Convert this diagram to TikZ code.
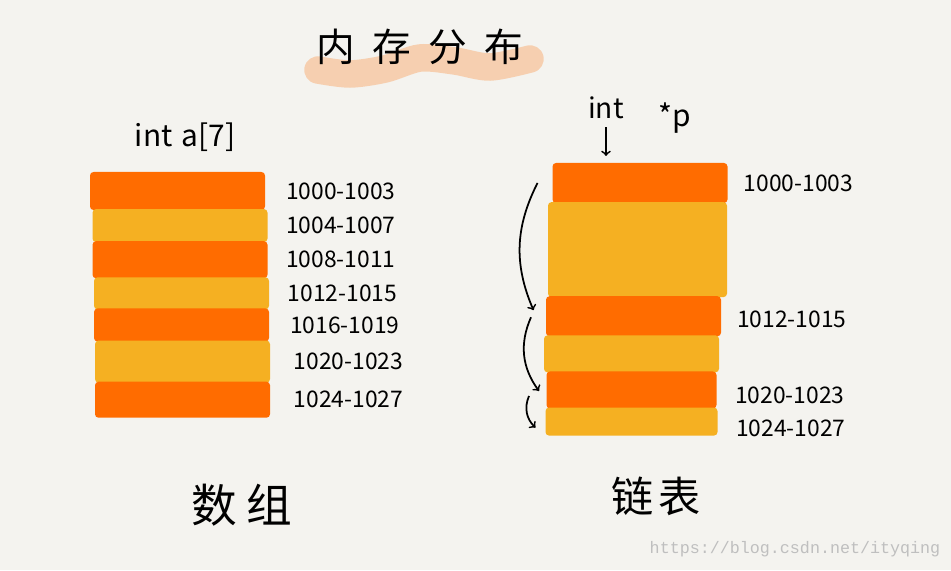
\documentclass[tikz,border=0pt]{standalone}
\usepackage{fontspec}
\setmainfont{Noto Sans CJK SC}
\newfontfamily\markfont{Liberation Mono}
\usepackage{tikz}
\usetikzlibrary{positioning}
\definecolor{paper}{HTML}{F4F3EF}
\definecolor{hot}{HTML}{FF6C00}
\definecolor{warm}{HTML}{F5B022}
\definecolor{peach}{HTML}{F7C49C}
\tikzstyle{cellA} = [rectangle, rounded corners=2pt, minimum width=3.5cm, inner sep=0pt, outer sep=0pt, fill=hot]
\tikzstyle{cellB} = [rectangle, rounded corners=2pt, minimum width=3.5cm, inner sep=0pt, outer sep=0pt, fill=warm]
\tikzstyle{addr} = [font=\fontsize{13}{15}\selectfont, anchor=west]
\tikzstyle{arrow} = [line width=1pt,->,>=to]

\begin{document}
\begin{tikzpicture}[node distance=-0.5pt]
\fill[paper] (0,0) rectangle (19.02,11.4);
\useasboundingbox (0,0) rectangle (19.02,11.4);

% title
\draw[peach, line width=0.55cm, line cap=round, opacity=0.75] plot[smooth] coordinates {(6.36,10.0) (7.0,9.92) (7.7,10.02) (8.4,10.24) (9.1,10.18) (9.8,10.06) (10.6,10.22)};
\node (title) at (8.4,10.46) {\fontsize{22}{24}\selectfont 内\hspace{0.45em}存\hspace{0.45em}分\hspace{0.45em}布};

% array
\node (decl) at (3.7,8.66) {\fontsize{17}{19}\selectfont int\hspace{0.3em}a[7]};
\node (a1) [cellA, minimum height=0.76cm, anchor=north] at (3.55,7.96) {};
\node (a2) [cellB, minimum height=0.66cm, below=of a1, xshift=0.05cm] {};
\node (a3) [cellA, minimum height=0.74cm, below=of a2] {};
\node (a4) [cellB, minimum height=0.64cm, below=of a3, xshift=0.03cm] {};
\node (a5) [cellA, minimum height=0.66cm, below=of a4] {};
\node (a6) [cellB, minimum height=0.84cm, below=of a5, xshift=0.02cm] {};
\node (a7) [cellA, minimum height=0.72cm, below=of a6] {};

\node (la1) [addr, right=0.3cm of a1] {1000-1003};
\node (la2) [addr, right=0.25cm of a2] {1004-1007};
\node (la3) [addr, right=0.25cm of a3] {1008-1011};
\node (la4) [addr, right=0.25cm of a4] {1012-1015};
\node (la5) [addr, right=0.3cm of a5] {1016-1019};
\node (la6) [addr, right=0.35cm of a6] {1020-1023};
\node (la7) [addr, right=0.35cm of a7] {1024-1027};

\node (arr) at (4.84,1.3) {\fontsize{26}{28}\selectfont 数\hspace{0.2em}组};

% linked list
\node (int) at (12.12,9.24) {\fontsize{16}{18}\selectfont int};
\node (ptr) at (13.5,9.04) {\fontsize{17}{19}\selectfont *p};
\node (b1) [cellA, minimum height=0.8cm, anchor=north] at (12.8,8.14) {};
\node (b2) [cellB, minimum height=1.9cm, minimum width=3.58cm, below=of b1, xshift=-0.05cm] {};
\node (b3) [cellA, minimum height=0.8cm, below=of b2, xshift=-0.08cm] {};
\node (b4) [cellB, minimum height=0.74cm, below=of b3, xshift=-0.04cm] {};
\node (b5) [cellA, minimum height=0.74cm, minimum width=3.4cm, below=of b4] {};
\node (b6) [cellB, minimum height=0.56cm, minimum width=3.44cm, below=of b5] {};

\node (lb1) [addr, right=0.2cm of b1] {1000-1003};
\node (lb3) [addr, right=0.2cm of b3, yshift=-0.06cm] {1012-1015};
\node (lb5) [addr, right=0.25cm of b5, yshift=-0.1cm] {1020-1023};
\node (lb6) [addr, right=0.25cm of b6, yshift=-0.14cm] {1024-1027};

\draw [arrow, shorten <=1pt, shorten >=4pt] (int) -- (int |- b1.north);
\draw [arrow] ([xshift=-0.3cm]b1.west) to[bend right=25] ([xshift=-0.25cm,yshift=0.12cm]b3.west);
\draw [arrow] ([xshift=-0.3cm,yshift=-0.02cm]b3.west) to[bend right=30] ([xshift=-0.15cm,yshift=-0.02cm]b5.west);
\draw [arrow] ([xshift=-0.35cm,yshift=-0.12cm]b5.west) to[bend right=35] ([xshift=-0.2cm,yshift=-0.12cm]b6.west);

\node (lst) at (13.12,1.48) {\fontsize{24}{26}\selectfont 链\hspace{0.1em}表};

% watermark
\node (mark) at (15.9,0.42) {\markfont\fontsize{9.5}{11}\selectfont\color{black!25}https://blog.csdn.net/ityqing};
\end{tikzpicture}
\end{document}
